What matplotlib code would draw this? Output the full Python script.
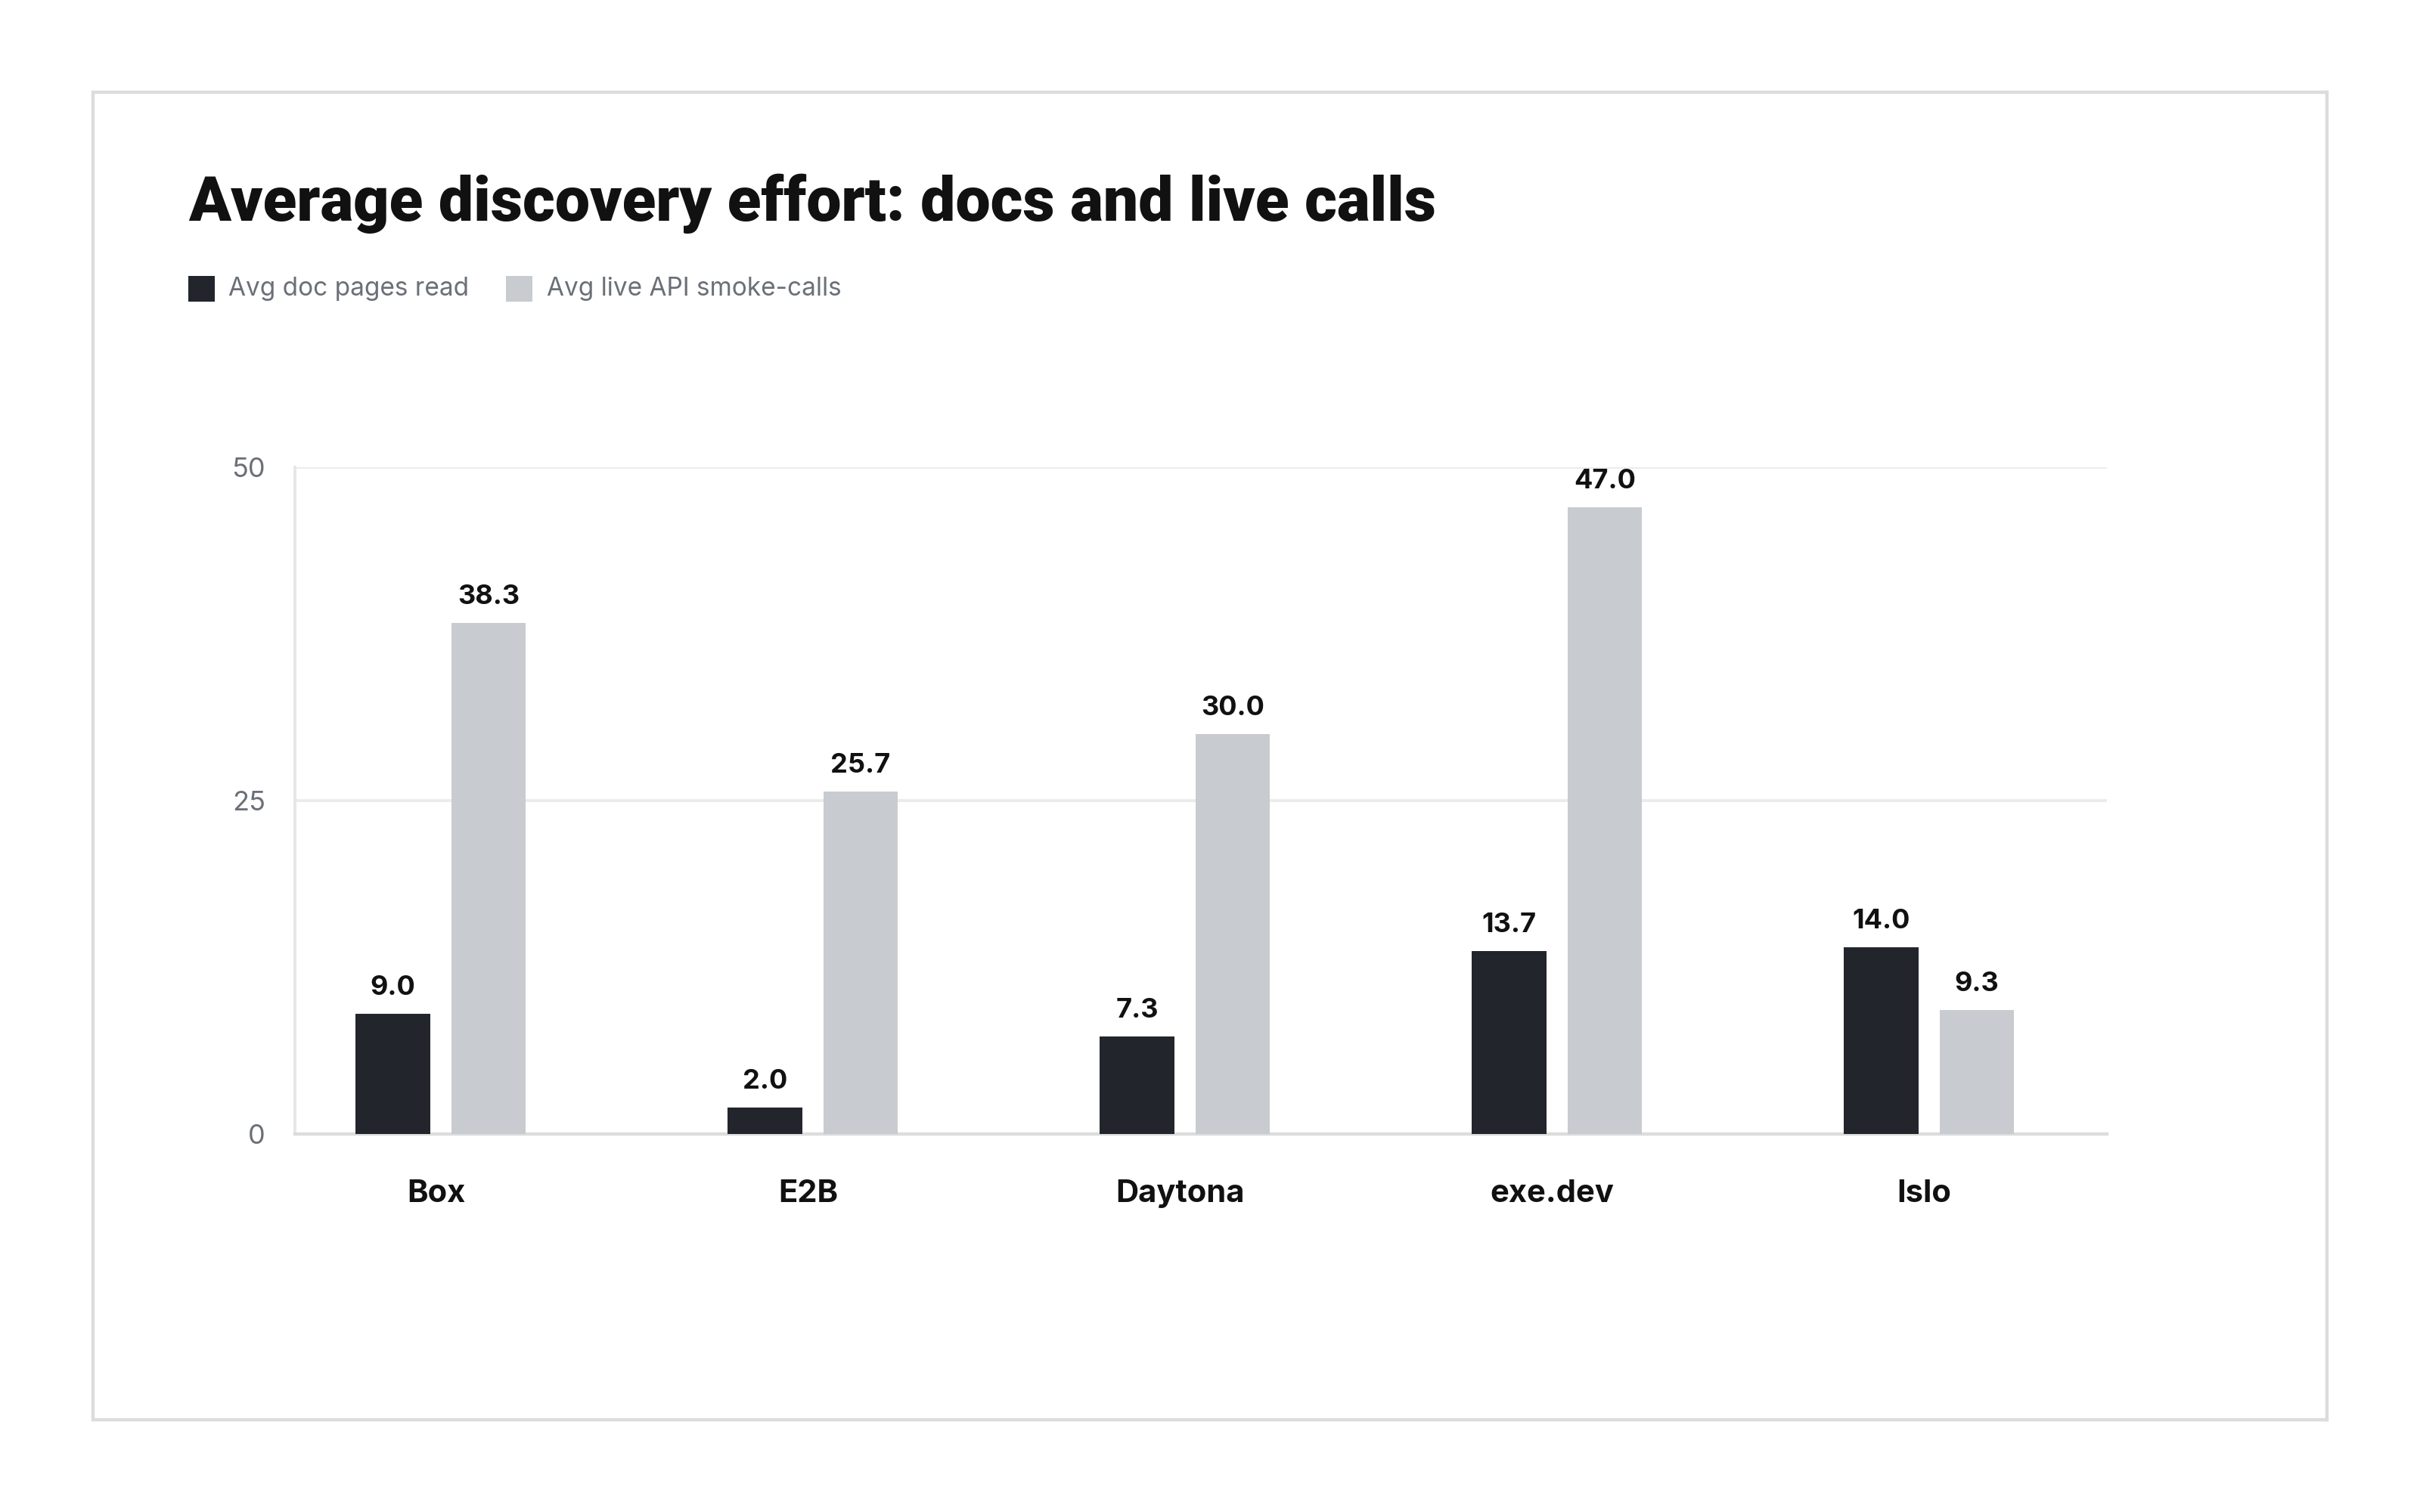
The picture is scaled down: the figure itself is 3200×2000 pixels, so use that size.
import numpy as np
import matplotlib.pyplot as plt
from matplotlib.patches import Rectangle

# data
categories = ["Box", "E2B", "Daytona", "exe.dev", "Islo"]
doc_pages = [9.0, 2.0, 7.3, 13.7, 14.0]
smoke_calls = [38.3, 25.7, 30.0, 47.0, 9.3]
series_names = ["Avg doc pages read", "Avg live API smoke-calls"]
y_ticks = [0, 25, 50]

DARK = "#22252c"
LIGHT = "#c8cbd0"
GREY_TXT = "#6b7078"

plt.rcParams['font.family'] = ['Inter', 'DejaVu Sans']

fig = plt.figure(figsize=(16, 10), dpi=200)
fig.patch.set_facecolor("white")

# outer card frame
fig.patches.append(Rectangle((0.0383, 0.0612), 0.9234, 0.8776, transform=fig.transFigure,
                             fill=False, edgecolor="#dcdcdc", linewidth=1.6, zorder=0))

ax = fig.add_axes([0.1218, 0.25, 0.7487, 0.441])

x = np.arange(len(categories))
w = 0.2
b1 = ax.bar(x - 0.116, doc_pages, w, color=DARK, zorder=3)
b2 = ax.bar(x + 0.141, smoke_calls, w, color=LIGHT, zorder=3)

for bars, vals in [(b1, doc_pages), (b2, smoke_calls)]:
    for rect, v in zip(bars, vals):
        ax.annotate(f"{v:.1f}", (rect.get_x() + rect.get_width() / 2, v),
                    xytext=(0, 6.5), textcoords="offset points", ha="center", va="bottom",
                    fontsize=13, fontweight="bold", color="#111111")

ax.set_xlim(-0.38, 4.49)
ax.set_ylim(0, 50)
ax.set_yticks(y_ticks)
ax.set_xticks(x)
ax.set_xticklabels(categories, fontsize=15, fontweight="bold", color="#111111")
ax.tick_params(axis="x", length=0, pad=21.5)
ax.tick_params(axis="y", length=0, pad=14, labelsize=13, labelcolor=GREY_TXT)
ax.yaxis.grid(True, color="#ebebeb", linewidth=1.4, zorder=0)
ax.set_axisbelow(True)

for s in ["top", "right"]:
    ax.spines[s].set_visible(False)
ax.spines["left"].set_color("#e6e6e6")
ax.spines["left"].set_linewidth(1.4)
ax.spines["bottom"].set_color("#dcdcdc")
ax.spines["bottom"].set_linewidth(1.6)

# title
fig.text(0.0778, 0.854, "Average discovery effort: docs and live calls", fontsize=29.6,
         fontweight="heavy", color="#111111", ha="left", va="baseline",
         family=["Roboto", "DejaVu Sans"])

# legend drawn by hand
leg_y = 0.809
sq_w, sq_h = 0.0108, 0.0173
for xs, xt, col, name in [(0.0778, 0.0944, DARK, series_names[0]),
                          (0.2092, 0.2258, LIGHT, series_names[1])]:
    fig.patches.append(Rectangle((xs, leg_y - sq_h / 2), sq_w, sq_h, transform=fig.transFigure,
                                 facecolor=col, edgecolor="none"))
    fig.text(xt, leg_y, name, fontsize=12, color=GREY_TXT, ha="left", va="center")

fig.savefig("out.png", dpi=200, facecolor="white")
